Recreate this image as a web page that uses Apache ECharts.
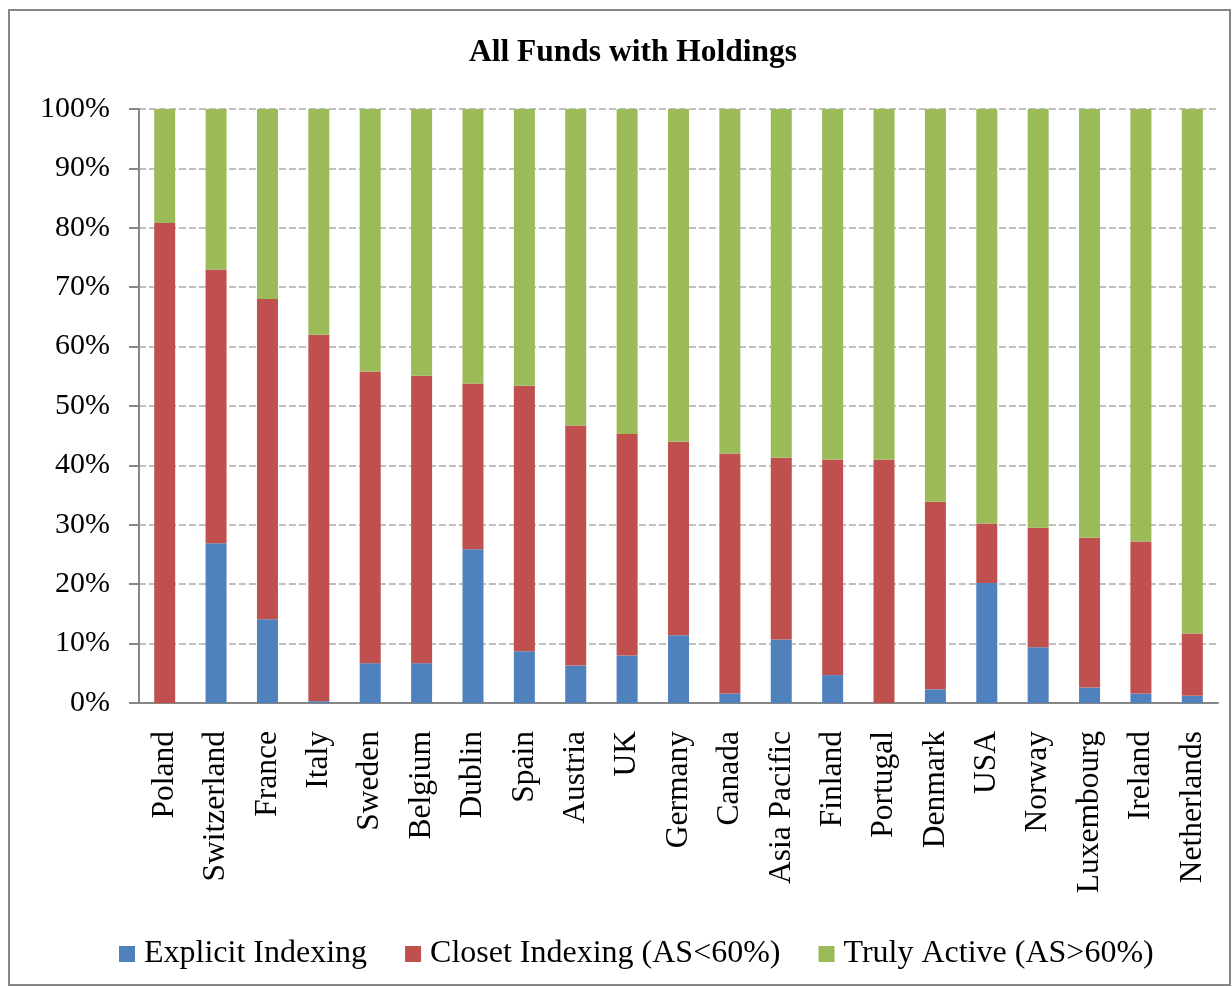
<!DOCTYPE html>
<html>
<head>
<meta charset="utf-8">
<script src="https://cdn.jsdelivr.net/npm/echarts@6/dist/echarts.min.js"></script>
<style>
html, body { margin: 0; padding: 0; background: #fff; }
#chart { width: 1232px; height: 987px; }
</style>
</head>
<body>
<div id="chart"></div>
<script>
// 各国家/地区
var countries = ['Poland', 'Switzerland', 'France', 'Italy', 'Sweden', 'Belgium', 'Dublin', 'Spain',
    'Austria', 'UK', 'Germany', 'Canada', 'Asia Pacific', 'Finland', 'Portugal', 'Denmark', 'USA',
    'Norway', 'Luxembourg', 'Ireland', 'Netherlands'];
// 三个部分的百分比
var explicitIndexing = [0, 26.9, 14.1, 0.3, 6.7, 6.7, 25.9, 8.7, 6.3, 8.0, 11.4, 1.6, 10.7, 4.7, 0, 2.3, 20.2, 9.4, 2.6, 1.6, 1.2];
var closetIndexing = [80.8, 46.1, 53.9, 61.7, 49.1, 48.4, 27.9, 44.7, 40.4, 37.3, 32.6, 40.4, 30.6, 36.3, 41.0, 31.6, 10.0, 20.1, 25.2, 25.6, 10.5];
var trulyActive = [19.2, 27.0, 32.0, 38.0, 44.2, 44.9, 46.2, 46.6, 53.3, 54.7, 56.0, 58.0, 58.7, 59.0, 59.0, 66.1, 69.8, 70.5, 72.2, 72.8, 88.3];
var seriesNames = ['Explicit Indexing', 'Closet Indexing (AS<60%)', 'Truly Active (AS>60%)'];

var font = '"Liberation Serif", "Times New Roman", serif';
var axisGray = '#868686';

function barSeries(name, data, color) {
    return {
        name: name,
        type: 'bar',
        stack: 'all',
        barWidth: 21,
        data: data,
        itemStyle: {color: color},
        emphasis: {disabled: true}
    };
}

echarts.init(document.querySelector('#chart')).setOption({
    backgroundColor: '#fff',
    animation: false,
    title: {
        text: 'All Funds with Holdings',
        left: 628,
        textAlign: 'center',
        top: 32,
        textStyle: {fontFamily: font, fontWeight: 'bold', fontSize: 31.5, color: '#000'}
    },
    legend: {
        left: 114,
        top: 933,
        icon: 'rect',
        itemWidth: 16,
        itemHeight: 16,
        itemGap: 38,
        data: seriesNames,
        textStyle: {fontFamily: font, fontSize: 32, color: '#000', padding: [0, 0, 0, 4]}
    },
    grid: {left: 139, right: 14, top: 109, bottom: 284, containLabel: false},
    xAxis: {
        type: 'category',
        data: countries,
        axisLine: {lineStyle: {color: axisGray, width: 2}},
        axisTick: {length: 9, lineStyle: {color: axisGray, width: 2}},
        axisLabel: {
            rotate: 90,
            margin: 28,
            interval: 0,
            fontFamily: font,
            fontSize: 31.5,
            color: '#000'
        }
    },
    yAxis: {
        type: 'value',
        min: 0,
        max: 100,
        interval: 10,
        axisLine: {show: true, lineStyle: {color: axisGray, width: 2}},
        axisTick: {show: true, length: 10, lineStyle: {color: axisGray, width: 2}},
        axisLabel: {formatter: '{value}%', margin: 29, fontFamily: font, fontSize: 30, color: '#000'},
        splitLine: {lineStyle: {color: '#c0c0c0', width: 2, type: [7, 3]}}
    },
    graphic: [{
        type: 'rect',
        shape: {x: 9, y: 10, width: 1221, height: 975},
        style: {fill: null, stroke: axisGray, lineWidth: 2},
        silent: true
    }],
    series: [
        barSeries(seriesNames[0], explicitIndexing, '#4f81bd'),
        barSeries(seriesNames[1], closetIndexing, '#c0504d'),
        barSeries(seriesNames[2], trulyActive, '#9bbb59')
    ]
});
</script>
</body>
</html>
